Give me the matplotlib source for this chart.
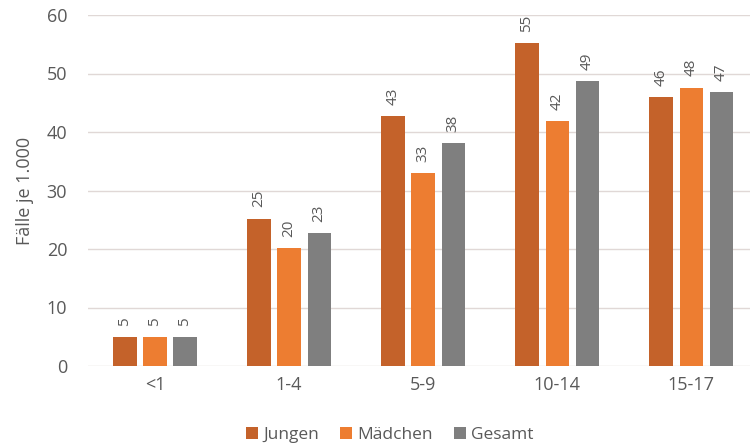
import numpy as np
import matplotlib
matplotlib.use("Agg")
import matplotlib.pyplot as plt

plt.rcParams['font.family'] = ['Open Sans', 'DejaVu Sans']

# data
age_groups = ['<1', '1-4', '5-9', '10-14', '15-17']
jungen = [4.9, 25.2, 42.8, 55.2, 46.0]
maedchen = [4.9, 20.1, 33.0, 41.8, 47.6]
gesamt = [4.9, 22.7, 38.1, 48.7, 46.8]
series_names = ['Jungen', 'Mädchen', 'Gesamt']
colors = ['#C4622A', '#ED7D31', '#7F7F7F']
text_col = '#595959'

fig = plt.figure(figsize=(7.5, 4.47), dpi=100)
ax = fig.add_axes([88 / 750, 81 / 447, 1 - 88 / 750, 351 / 447])

x = np.arange(len(age_groups))
step = 0.224
width = 0.172
for i, (vals, name, c) in enumerate(zip([jungen, maedchen, gesamt], series_names, colors)):
    pos = x + (i - 1) * step
    ax.bar(pos, vals, width, color=c, label=name, zorder=3)
    for p, v in zip(pos, vals):
        ax.text(p, v + 1.9, f"{round(v):d}", rotation=90, ha='center', va='bottom',
                fontsize=11, color=text_col)

ax.set_ylim(0, 60)
ax.set_xlim(-0.5, 4.44)
ax.set_yticks(range(0, 61, 10))
ax.set_xticks(x)
ax.set_xticklabels(age_groups)
ax.grid(axis='y', color='#E0D8D6', linewidth=1, zorder=0)
for s in ax.spines.values():
    s.set_visible(False)
ax.tick_params(length=0, labelsize=13, colors=text_col)
ax.tick_params(axis='y', pad=15)
ax.tick_params(axis='x', pad=7)
ax.set_ylabel('Fälle je 1.000', fontsize=13, color=text_col, labelpad=9)

fig.legend(loc='center', bbox_to_anchor=(390 / 750, 1 - 435 / 447), ncol=3,
           frameon=False, fontsize=12.5, handlelength=0.7, handleheight=0.7,
           handletextpad=0.3, columnspacing=1.2, labelcolor=text_col)

fig.savefig('out.png', dpi=100)
